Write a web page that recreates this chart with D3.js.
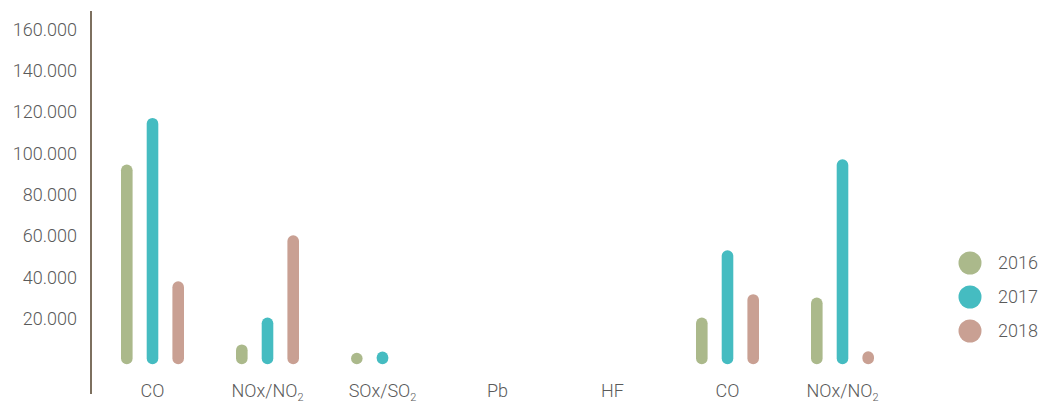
<!DOCTYPE html>
<html>
<head>
<meta charset="utf-8">
<script src="https://cdn.jsdelivr.net/npm/d3@7"></script>
<style>
  html, body { margin: 0; padding: 0; background: #ffffff; }
  svg { display: block; font-family: Roboto, "Liberation Sans", sans-serif; }
</style>
</head>
<body>
<svg id="chart" width="1044" height="405"></svg>
<script>
const categories = ["CO", "NOx/NO2", "SOx/SO2", "Pb", "HF", "CO", "NOx/NO2"];
const seriesNames = ["2016", "2017", "2018"];
const values2016 = [91000, 4000, 0, null, null, 17000, 26700];
const values2017 = [113500, 17000, 600, null, null, 49500, 93500];
const values2018 = [34500, 56800, null, null, null, 28300, 700];
const tickValues = [20000, 40000, 60000, 80000, 100000, 120000, 140000, 160000];
const colors = ["#abb98b", "#45bcc1", "#c9a093"];

const series = [values2016, values2017, values2018];
const svg = d3.select("#chart");

const x = d3.scaleBand().domain(d3.range(categories.length)).range([95, 900]).padding(0);
const xInner = d3.scalePoint().domain(seriesNames).range([-25.7, 25.7]);
const y = d3.scaleLinear().domain([0, 160000]).range([358.5, 27.5]);

const locale = d3.formatLocale({decimal: ",", thousands: ".", grouping: [3], currency: ["", ""]});
const fmt = locale.format(",");

// y axis labels
const yAxis = d3.axisLeft(y).tickValues(tickValues).tickFormat(fmt).tickSize(0).tickPadding(0);
const gy = svg.append("g").attr("transform", "translate(77,0)").call(yAxis);
gy.select(".domain").remove();
gy.selectAll("text")
  .attr("font-family", "Roboto, sans-serif")
  .attr("font-size", 18)
  .attr("font-weight", 300)
  .attr("fill", "#5a5a5a")
  .attr("dy", "0.42em");

// axis line
svg.append("line")
  .attr("x1", 91).attr("x2", 91)
  .attr("y1", 11).attr("y2", 394)
  .attr("stroke", "#7d705f").attr("stroke-width", 2);

// bars as rounded pills
const r = 5.8;
const barData = [];
series.forEach((vals, si) => {
  vals.forEach((v, ci) => {
    if (v === null) return;
    barData.push({ci, si, v});
  });
});
svg.append("g").selectAll("rect").data(barData).join("rect")
  .attr("x", d => x(d.ci) + x.bandwidth() / 2 + xInner(seriesNames[d.si]) - r)
  .attr("width", 2 * r)
  .attr("y", d => y(d.v) - r)
  .attr("height", d => y(0) - y(d.v) + 2 * r)
  .attr("rx", r).attr("ry", r)
  .attr("fill", d => colors[d.si]);

// category labels with subscripts
const catG = svg.append("g");
categories.forEach((c, i) => {
  const t = catG.append("text")
    .attr("x", x(i) + x.bandwidth() / 2)
    .attr("y", 397)
    .attr("text-anchor", "middle")
    .attr("font-size", 18)
    .attr("font-weight", 300)
    .attr("fill", "#5a5a5a");
  const m = c.match(/^(.*O)(2)$/);
  if (m) {
    t.append("tspan").text(m[1]);
    t.append("tspan").attr("font-size", 11).attr("dy", 4).text(m[2]);
  } else {
    t.text(c);
  }
});

// legend
const leg = svg.append("g");
seriesNames.forEach((s, i) => {
  const cy = 263 + i * 34;
  leg.append("circle").attr("cx", 970).attr("cy", cy).attr("r", 11.5).attr("fill", colors[i]);
  leg.append("text").attr("x", 998).attr("y", cy).attr("dy", "0.36em")
    .attr("font-size", 18).attr("font-weight", 300).attr("fill", "#5a5a5a").text(s);
});
</script>
</body>
</html>
